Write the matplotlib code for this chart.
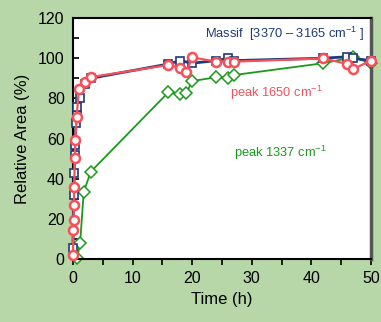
import matplotlib
matplotlib.use("Agg")
import matplotlib.pyplot as plt
from matplotlib.ticker import MultipleLocator

plt.rcParams["font.family"] = ["Liberation Sans", "DejaVu Sans"]
plt.rcParams["mathtext.fontset"] = "custom"
plt.rcParams["mathtext.rm"] = "Liberation Sans"
plt.rcParams["mathtext.it"] = "Liberation Sans:italic"
plt.rcParams["mathtext.bf"] = "Liberation Sans:bold"

# Massif [3370 - 3165 cm-1]
t_massif = [0.0, 0.1, 0.2, 0.3, 0.35, 0.5, 0.6, 0.7, 1.2, 2.0, 3.0,
            16, 18, 20, 24, 26, 27, 42, 46, 47, 50]
a_massif = [5.5, 31.9, 42.8, 51.8, 56.8, 67.7, 71.7, 75.6, 80.0, 87.0, 90.0,
            97.1, 98.8, 97.5, 98.8, 99.9, 98.8, 100.0, 100.7, 99.9, 98.8]

# peak 1650 cm-1
t_1650 = [0.0, 0.05, 0.1, 0.15, 0.2, 0.3, 0.4, 0.6, 1.0, 2.0, 3.0,
          16, 18, 19, 20, 24, 26, 27, 42, 46, 47, 50]
a_1650 = [2.0, 14.4, 19.4, 26.9, 35.9, 50.3, 59.3, 70.7, 84.7, 88.1, 90.6,
          96.6, 95.1, 93.0, 100.4, 98.3, 98.3, 98.3, 99.9, 97.1, 94.6, 98.8]

# peak 1337 cm-1
t_1337 = [0.7, 1.2, 1.8, 3.0, 16, 18, 19, 20, 24, 26, 27, 42, 47, 50]
a_1337 = [0.3, 8.1, 33.5, 43.5, 83.0, 82.0, 82.5, 88.6, 90.5, 90.0, 91.6,
          97.5, 100.5, 97.5]

bg = "#b8d7a8"
navy = "#1f3a78"
red = "#f84f58"
green = "#1a9a1a"

fig = plt.figure(figsize=(3.81, 3.22), dpi=100, facecolor=bg)
ax = fig.add_axes([0.1916, 0.1957, 0.7822, 0.7483])

ax.plot(t_massif, a_massif, "-s", color=navy, lw=2.0, ms=5.5,
        mfc="white", mec=navy, mew=1.2, zorder=3)
ax.plot(t_1337, a_1337, "-D", color=green, lw=1.3, ms=6,
        mfc="white", mec=green, mew=1.1, zorder=2)
ax.plot(t_1650, a_1650, "-o", color=red, lw=1.6, ms=6.5,
        mfc="white", mec=red, mew=1.8, zorder=4)

ax.set_xlim(0, 50)
ax.set_ylim(0, 120)
ax.xaxis.set_major_locator(MultipleLocator(10))
ax.xaxis.set_minor_locator(MultipleLocator(5))
ax.yaxis.set_major_locator(MultipleLocator(20))
ax.yaxis.set_minor_locator(MultipleLocator(10))
ax.tick_params(axis="x", which="both", direction="out", length=4, width=1.2,
               labelsize=11.5, pad=5)
ax.tick_params(axis="y", which="both", direction="in", length=4, width=1.2,
               labelsize=11.5, pad=6)

for s in ["left", "bottom", "top"]:
    ax.spines[s].set_linewidth(1.5)
    ax.spines[s].set_color("black")
ax.spines["right"].set_linewidth(2.5)
ax.spines["right"].set_color("#555555")

ax.set_xlabel("Time (h)", fontsize=12, labelpad=4)
ax.set_ylabel("Relative Area (%)", fontsize=12, labelpad=6)

ax.text(0.977, 0.934, "Massif  [3370 \u2013 3165 cm$^{-1}$ ]", color=navy,
        fontsize=9.3, ha="right", va="center", transform=ax.transAxes)
ax.text(0.681, 0.689, "peak 1650 cm$^{-1}$", color=red, fontsize=9.3,
        ha="center", va="center", transform=ax.transAxes)
ax.text(0.695, 0.44, "peak 1337 cm$^{-1}$", color=green, fontsize=9.3,
        ha="center", va="center", transform=ax.transAxes)

for line in ax.get_lines():
    line.set_clip_on(False)

fig.savefig("out.png", dpi=100, facecolor=bg)
